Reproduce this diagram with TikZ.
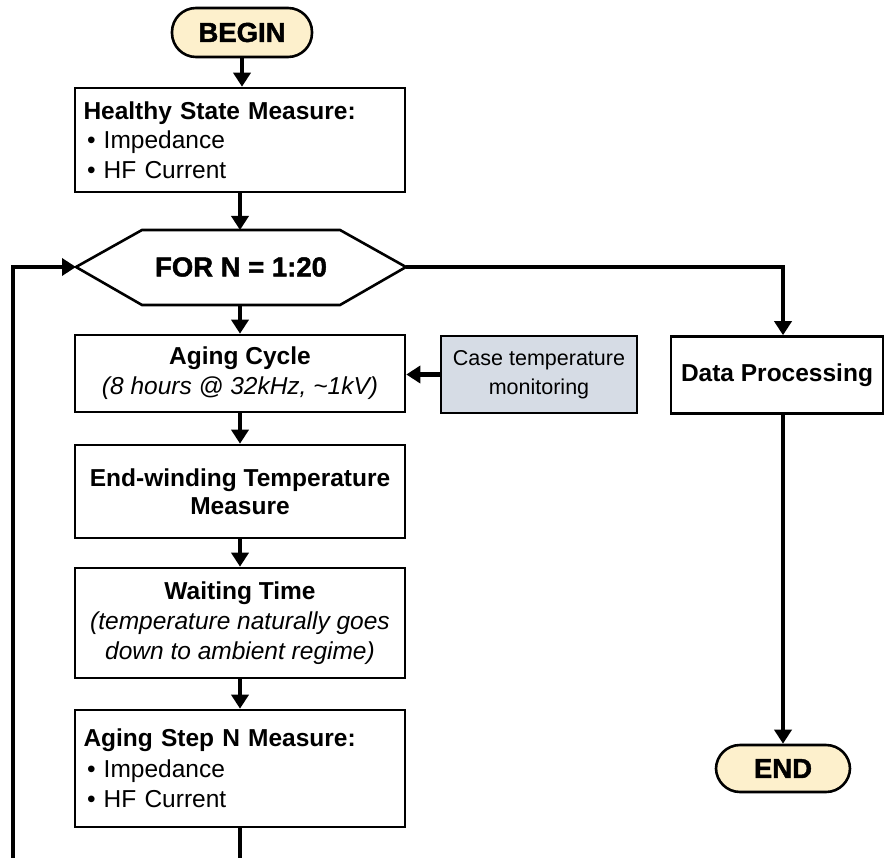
\documentclass[tikz,border=0pt]{standalone}
\usepackage{fontspec}
\setmainfont{Liberation Sans}
\newfontfamily\heavyfont[FakeBold=1.6]{Liberation Sans Bold}
\usetikzlibrary{arrows.meta,positioning}
\definecolor{cream}{HTML}{FDF0CC}
\definecolor{grayblue}{HTML}{D6DCE5}
\newcommand{\bul}{\hspace*{5pt}\textbullet\ }
\tikzset{
  box/.style={draw=black, line width=2.6pt, fill=white, minimum width=330pt, inner sep=6pt, font=\fontsize{24.5}{29.5}\selectfont},
  stadium/.style={draw=black, line width=2.6pt, fill=cream, rounded corners=24pt, font=\heavyfont\fontsize{27.5}{30}\selectfont},
  conn/.style={line width=4.5pt, -{Triangle[length=14pt,width=17pt]}},
  plainline/.style={line width=4.5pt},
}
\begin{document}
\begin{tikzpicture}[x=1pt,y=-1pt]
\useasboundingbox (0,0) rectangle (885,858);
% begin
\node[stadium, minimum width=140pt, minimum height=49pt] (begin) at (242,32.5) {BEGIN};
% healthy
\node[box, minimum height=104pt, text width=316pt, align=left] (healthy) at (240,140) {\hspace*{1.5pt}\textbf{Healthy State Measure:}\\ \bul Impedance\\ \bul HF Current};
% hexagon
\coordinate (forL) at (76,267);
\coordinate (forR) at (406,267);
\coordinate (forT) at (240,230);
\coordinate (forB) at (240,305);
\draw[line width=2.6pt, fill=white, line join=miter] (forL) -- (142,230) -- (340,230) -- (forR) -- (340,305) -- (142,305) -- cycle;
\node[font=\heavyfont\fontsize{27.5}{30}\selectfont] (forN) at (241,267) {FOR N = 1:20};
% aging cycle
\node[box, minimum height=77pt, align=center, font=\fontsize{24.5}{30}\selectfont] (aging) at (240,373.5) {\textbf{Aging Cycle}\\ \textit{(8 hours @ 32kHz, \textasciitilde1kV)}};
% case temperature
\node[box, fill=grayblue, minimum width=196pt, minimum height=77pt, align=center, font=\fontsize{21.5}{29}\selectfont] (case) at (539,374.5) {Case temperature\\ monitoring};
% data processing
\node[box, minimum width=212pt, minimum height=77pt, font=\bfseries\fontsize{24.5}{29.5}\selectfont] (dp) at (777,375) {Data Processing};
% end-winding
\node[box, minimum height=93pt, align=center, font=\bfseries\fontsize{24.5}{28.5}\selectfont] (endw) at (240,491.5) {End-winding Temperature\\ Measure};
% waiting
\node[box, minimum height=110pt, align=center, font=\fontsize{24.5}{30}\selectfont] (wait) at (240,623) {\textbf{Waiting Time}\\ \textit{(temperature naturally goes}\\ \textit{down to ambient regime)}};
% aging step
\node[box, minimum height=117pt, text width=316pt, align=left, font=\fontsize{24.5}{30.5}\selectfont] (step) at (240,768.5) {\hspace*{1.5pt}\textbf{Aging Step N Measure:}\\ \bul Impedance\\ \bul HF Current};
% end
\node[stadium, minimum width=134pt, minimum height=47pt] (end) at (783,768.5) {END};
% connectors
\coordinate (botL) at (13,858);
\coordinate (botM) at (240,858);
\coordinate (turnR) at (783,267);
\draw[conn] (begin.south) -- (begin.south |- healthy.north);
\draw[conn] (healthy.south) -- (forT);
\draw[conn] (forB) -- (aging.north);
\draw[conn] (aging.south) -- (endw.north);
\draw[conn] (endw.south) -- (wait.north);
\draw[conn] (wait.south) -- (step.north);
\draw[conn] (case.west) -- (aging.east |- case.west);
\draw[plainline] (step.south) -- (botM);
\draw[conn] (botL) |- (forL);
\draw[conn] (forR) -- (turnR) -- (turnR |- dp.north);
\draw[conn] (end.north |- dp.south) -- (end.north);
\end{tikzpicture}
\end{document}
